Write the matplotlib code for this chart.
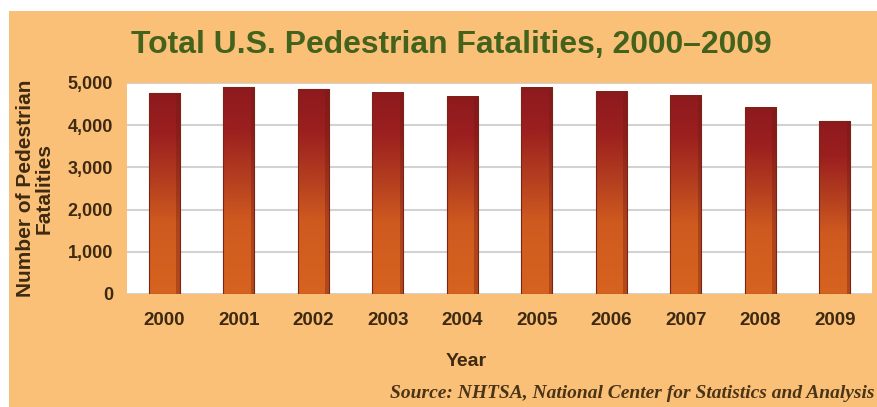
import matplotlib
matplotlib.use("Agg")
import matplotlib.pyplot as plt
import numpy as np
from matplotlib import font_manager
from matplotlib.colors import LinearSegmentedColormap
from matplotlib.patches import Rectangle

years = ['2000', '2001', '2002', '2003', '2004', '2005', '2006', '2007', '2008', '2009']
fatalities = [4763, 4901, 4851, 4774, 4675, 4892, 4795, 4699, 4414, 4092]
y_ticks = [0, 1000, 2000, 3000, 4000, 5000]
y_ticklabels = ['0', '1,000', '2,000', '3,000', '4,000', '5,000']

names = {f.name for f in font_manager.fontManager.ttflist}
narrow = 'Liberation Sans Narrow' if 'Liberation Sans Narrow' in names else 'Liberation Sans'
plt.rcParams['font.family'] = [narrow, 'DejaVu Sans']

bg = '#FBC077'
txt = '#3E2A12'
green = '#43621B'

fig = plt.figure(figsize=(8.78, 4.07), dpi=100, facecolor='white')
fig.patches.append(Rectangle((9 / 878, 0), 1, 1 - 11 / 407, transform=fig.transFigure,
                             facecolor=bg, edgecolor='none', zorder=-10))

ax = fig.add_axes([127 / 878, 1 - 294 / 407, 745 / 878, 211 / 407])
ax.set_facecolor('white')
for s in ax.spines.values():
    s.set_visible(False)

# gradient used inside each bar (top -> bottom)
cmap = LinearSegmentedColormap.from_list('bar', [
    (0.0, '#8E1A1E'), (0.2, '#9B1F1F'), (0.45, '#B5401F'),
    (0.65, '#CF5A1F'), (1.0, '#D6631F')])
grad = np.linspace(0, 1, 256).reshape(-1, 1)

w = 0.42
x = np.arange(len(years))
for xi, v in zip(x, fatalities):
    ax.imshow(grad, cmap=cmap, aspect='auto', origin='upper',
              extent=(xi - w / 2, xi + w / 2, 0, v), zorder=2, interpolation='bilinear')
    # darker right edge
    ax.add_patch(Rectangle((xi + w / 2 - 0.05, 0), 0.05, v, facecolor='#6E1A14',
                           alpha=0.35, edgecolor='none', zorder=3))
    ax.add_patch(Rectangle((xi - w / 2, 0), w, v, facecolor='none',
                           edgecolor='#7A2416', lw=0.8, zorder=4))

ax.set_xlim(-0.5, len(years) - 0.5)
ax.set_ylim(0, 5000)
ax.set_yticks(y_ticks)
ax.set_yticklabels(y_ticklabels)
ax.set_xticks(x)
ax.set_xticklabels(years)
ax.grid(axis='y', color='#D2D2D2', lw=1.5, zorder=0)
ax.tick_params(length=0, colors=txt)
ax.tick_params(axis='y', pad=10, labelsize=13)
ax.tick_params(axis='x', pad=13, labelsize=13.5)
for lab in ax.get_xticklabels() + ax.get_yticklabels():
    lab.set_fontweight('bold')

fig.canvas.draw()
rend = fig.canvas.get_renderer()

title = fig.text(451 / 878, 1 - 53 / 407, 'Total U.S. Pedestrian Fatalities, 2000–2009',
                 ha='center', va='baseline', color=green, fontweight='bold', fontsize=24)
tw = title.get_window_extent(rend).width
title.set_fontsize(24 * 642 / tw)

ylab = fig.text(35 / 878, 1 - 188 / 407, 'Number of Pedestrian\nFatalities', rotation=90,
                ha='center', va='center', multialignment='center', color=txt,
                fontweight='bold', fontsize=14, linespacing=1.0)
yh = ylab.get_window_extent(rend).height
ylab.set_fontsize(14 * 217 / yh)

fig.text(466 / 878, 1 - 361 / 407, 'Year', ha='center', va='center', color=txt,
         fontweight='bold', fontsize=14)

fig.text(390 / 878, 1 - 393 / 407, 'Source: NHTSA, National Center for Statistics and Analysis',
         ha='left', va='center', color='#4A3416', fontsize=14, fontweight='bold',
         fontstyle='italic', family=['Liberation Serif', 'DejaVu Serif'])

fig.savefig('out.png', dpi=100, facecolor=fig.get_facecolor())
